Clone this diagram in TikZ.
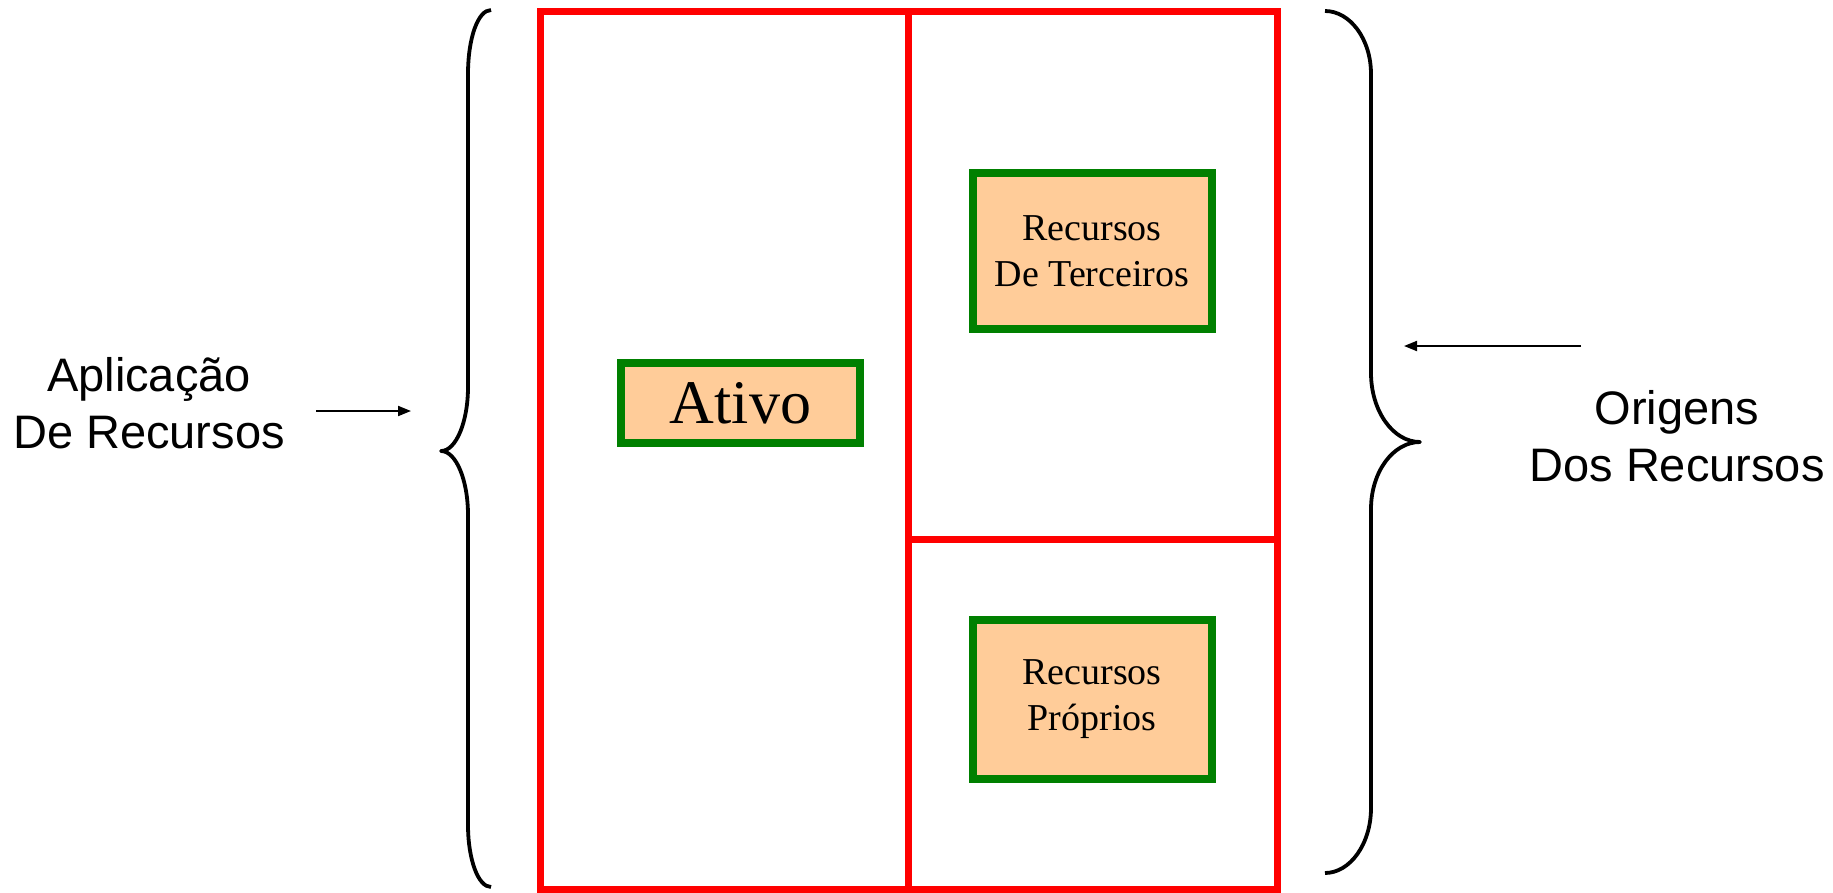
\documentclass[tikz,border=0pt]{standalone}
\usepackage{fontspec}
\setmainfont{Liberation Serif}
\newfontfamily\arialfont{Liberation Sans}
\usepackage{xcolor}
\usepackage{tikz}
\usetikzlibrary{arrows.meta}
\definecolor{peach}{HTML}{FFCC99}
\definecolor{boxgreen}{HTML}{008000}

\begin{document}
\begin{tikzpicture}[x=1pt,y=-1pt,
		redline/.style={draw=red,line width=7pt},
		conta/.style={draw=boxgreen,line width=8pt,fill=peach,inner sep=0pt,minimum width=239pt,align=center},
		chave/.style={line width=3.8pt,line join=round},
		seta/.style={line width=2pt,-{Triangle[length=13pt,width=10pt]}},
		rotulo/.style={align=center,font=\arialfont\fontsize{47}{57}\selectfont}]
		\useasboundingbox (0,0) rectangle (1833,892);
		\draw [redline] (540,11) rectangle (1277,889);
		\draw [redline] (908,11) -- (908,889);
		\draw [redline] (908,539) -- (1277,539);
		\node (A) [conta,minimum height=80pt,font=\fontsize{62}{70}\selectfont] at (740.5,403) {Ativo};
		\node (T) [conta,minimum height=156pt,font=\fontsize{38}{46}\selectfont] at (1092,251) {Recursos\\De Terceiros};
		\node (P) [conta,minimum height=159pt,font=\fontsize{38}{46}\selectfont] at (1092,699) {Recursos\\Próprios};
		\draw [chave] (491,10) .. controls (478,10) and (468,38) .. (468,74) -- (468,387) .. controls (468,422) and (456,451) .. (441,451)
			.. controls (456,451) and (468,480) .. (468,515) -- (468,825) .. controls (468,859) and (478,887) .. (491,887);
		\draw [chave] (1325,11) .. controls (1350,11) and (1371,39) .. (1371,74) -- (1371,373) .. controls (1371,411) and (1393,442) .. (1420,442)
			.. controls (1393,442) and (1371,472) .. (1371,509) -- (1371,808) .. controls (1371,844) and (1350,873) .. (1325,873);
		\node (L) [rotulo] at (149,403) {Aplicação\\De Recursos};
		\node (R) [rotulo] at (1677,436) {Origens\\Dos Recursos};
		\coordinate (L1) at (316,411);
		\coordinate (L2) at (411,411);
		\coordinate (R1) at (1581,346);
		\coordinate (R2) at (1404,346);
		\draw [seta] (L1) -- (L2);
		\draw [seta] (R1) -- (R2);
	\end{tikzpicture}
\end{document}
